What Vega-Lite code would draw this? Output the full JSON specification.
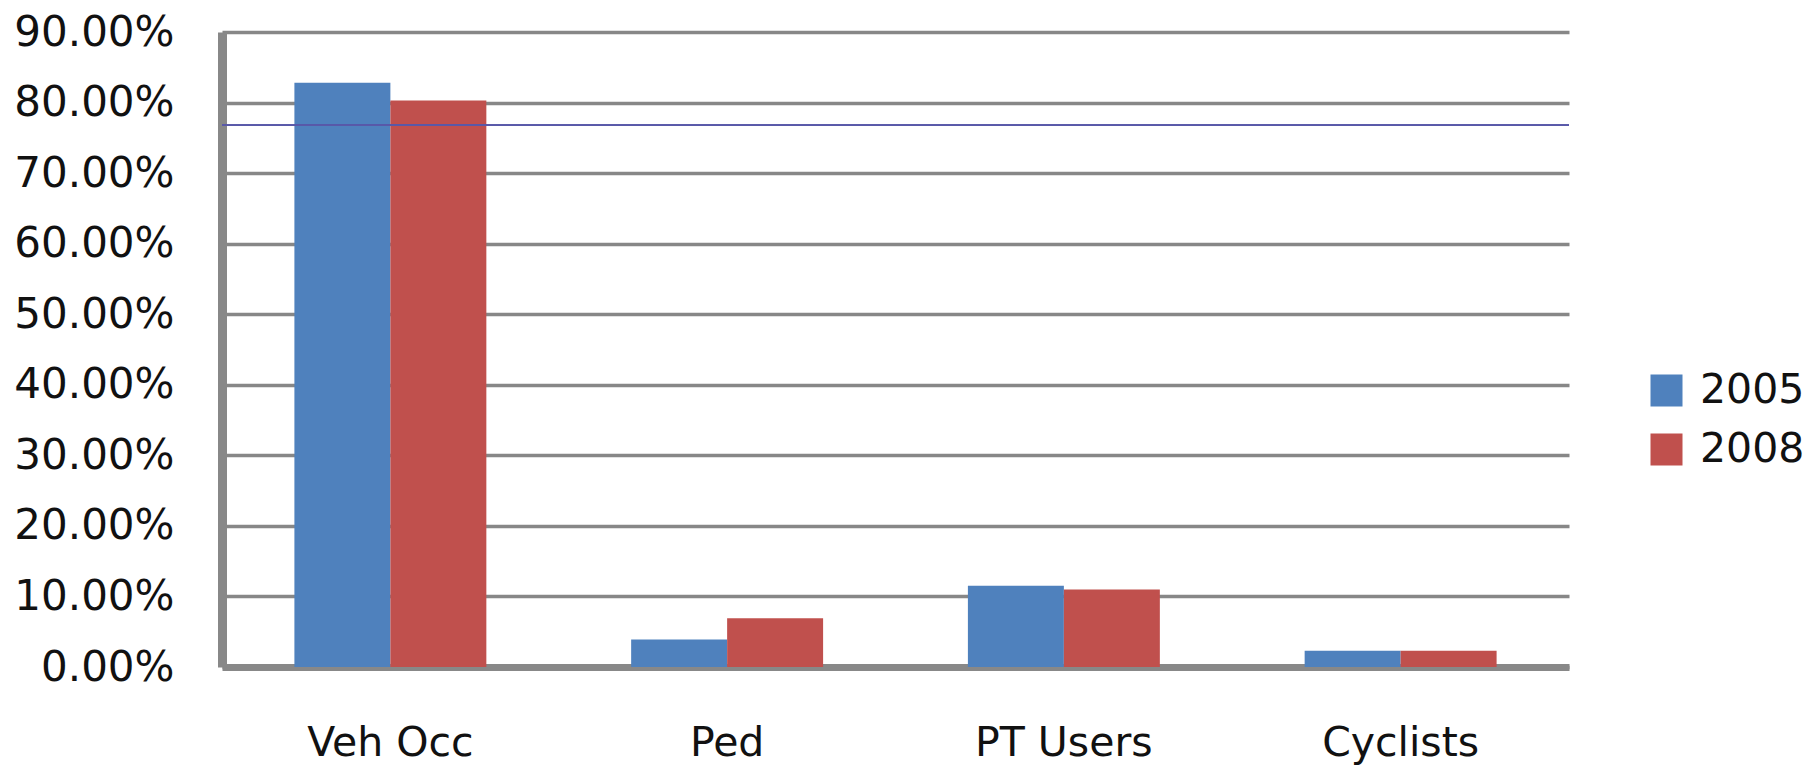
{
  "$schema": "https://vega.github.io/schema/vega-lite/v6.json",
  "autosize": "none",
  "width": 1347,
  "height": 635,
  "padding": {"left": 222, "top": 32, "right": 244, "bottom": 98},
  "background": "white",
  "data": {"values": [
    {"mode": "Veh Occ", "year": "2005", "share": 0.828},
    {"mode": "Veh Occ", "year": "2008", "share": 0.803},
    {"mode": "Ped", "year": "2005", "share": 0.039},
    {"mode": "Ped", "year": "2008", "share": 0.069},
    {"mode": "PT Users", "year": "2005", "share": 0.115},
    {"mode": "PT Users", "year": "2008", "share": 0.110},
    {"mode": "Cyclists", "year": "2005", "share": 0.023},
    {"mode": "Cyclists", "year": "2008", "share": 0.023}
  ]},
  "layer": [
    {
      "mark": {"type": "bar"},
      "encoding": {
        "x": {
          "field": "mode", "type": "nominal",
          "sort": ["Veh Occ", "Ped", "PT Users", "Cyclists"],
          "scale": {"paddingInner": 0.43, "paddingOuter": 0.215},
          "axis": {
            "title": null, "labelAngle": 0, "labelFontSize": 41, "labelFont": "DejaVu Sans",
            "labelColor": "#111", "ticks": false, "labelPadding": 56,
            "domainColor": "#888888", "domainWidth": 7, "grid": false
          }
        },
        "xOffset": {"field": "year", "type": "nominal"},
        "y": {
          "field": "share", "type": "quantitative",
          "scale": {"domain": [0, 0.9], "nice": false},
          "axis": {
            "title": null, "values": [0, 0.1, 0.2, 0.3, 0.4, 0.5, 0.6, 0.7, 0.8, 0.9],
            "format": ".2%", "labelFontSize": 42, "labelFont": "DejaVu Sans", "labelColor": "#111",
            "ticks": false, "labelPadding": 48, "grid": true, "gridColor": "#878787", "gridWidth": 3.5,
            "domainColor": "#888888", "domainWidth": 9
          }
        },
        "color": {
          "field": "year", "type": "nominal",
          "scale": {"domain": ["2005", "2008"], "range": ["#4F81BD", "#C0504D"]},
          "legend": {
            "title": null, "orient": "none", "legendX": 1424, "legendY": 338,
            "symbolType": "square", "symbolSize": 1024, "symbolStrokeWidth": 0, "symbolOpacity": 1,
            "labelFontSize": 41, "labelFont": "DejaVu Sans", "labelColor": "#111",
            "labelOffset": 13, "rowPadding": 17
          }
        }
      }
    },
    {
      "mark": {"type": "rule", "color": "#5a5aa8", "strokeWidth": 1},
      "encoding": {"y": {"datum": 0.768}}
    }
  ],
  "config": {"view": {"stroke": null}}
}
